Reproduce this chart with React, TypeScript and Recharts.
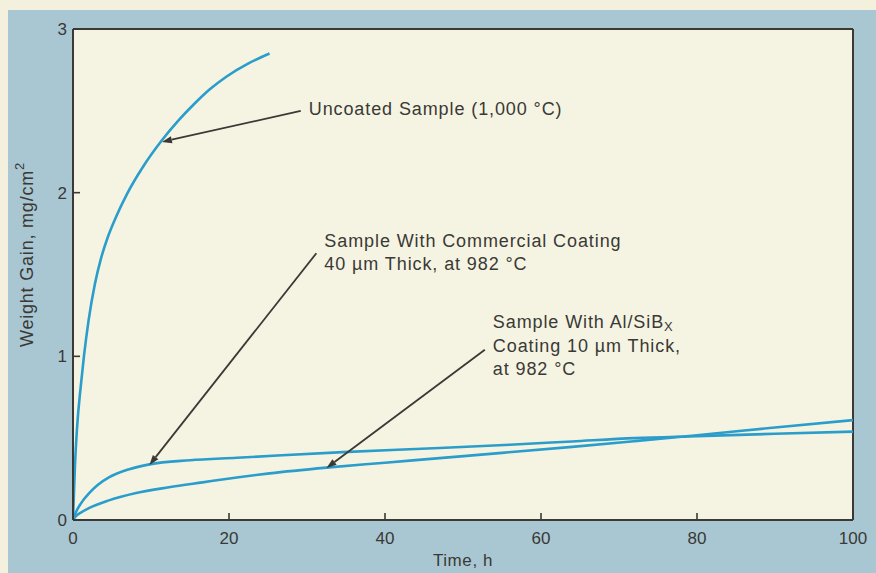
import React from "react";
import { LineChart, Line, XAxis, YAxis, ReferenceLine } from "recharts";

// values
const xTicks = [0, 20, 40, 60, 80, 100];
const yTicks = [0, 1, 2, 3];

const uncoated = [
  { x: 0, y: 0 },
  { x: 0.25, y: 0.33 },
  { x: 0.5, y: 0.55 },
  { x: 1, y: 0.82 },
  { x: 1.4, y: 1.0 },
  { x: 2, y: 1.22 },
  { x: 2.8, y: 1.44 },
  { x: 3.6, y: 1.6 },
  { x: 4.4, y: 1.72 },
  { x: 5.5, y: 1.85 },
  { x: 6.9, y: 1.99 },
  { x: 9, y: 2.16 },
  { x: 11.4, y: 2.32 },
  { x: 13.5, y: 2.44 },
  { x: 15.5, y: 2.54 },
  { x: 17.5, y: 2.63 },
  { x: 19.7, y: 2.71 },
  { x: 22.5, y: 2.79 },
  { x: 25.2, y: 2.85 },
];

const commercial = [
  { x: 0, y: 0 },
  { x: 0.4, y: 0.05 },
  { x: 1, y: 0.1 },
  { x: 2.1, y: 0.165 },
  { x: 3.2, y: 0.215 },
  { x: 4.6, y: 0.26 },
  { x: 7.2, y: 0.31 },
  { x: 9.8, y: 0.34 },
  { x: 15, y: 0.365 },
  { x: 21, y: 0.38 },
  { x: 34.6, y: 0.415 },
  { x: 47, y: 0.44 },
  { x: 56, y: 0.46 },
  { x: 64, y: 0.48 },
  { x: 72, y: 0.5 },
  { x: 80, y: 0.512 },
  { x: 90, y: 0.527 },
  { x: 100, y: 0.54 },
];

const alSiBx = [
  { x: 0, y: 0 },
  { x: 0.4, y: 0.025 },
  { x: 1, y: 0.045 },
  { x: 2.1, y: 0.074 },
  { x: 4.6, y: 0.12 },
  { x: 8.1, y: 0.165 },
  { x: 12.3, y: 0.2 },
  { x: 16.6, y: 0.23 },
  { x: 21, y: 0.26 },
  { x: 25.2, y: 0.285 },
  { x: 32.5, y: 0.32 },
  { x: 40, y: 0.35 },
  { x: 47, y: 0.378 },
  { x: 55, y: 0.41 },
  { x: 64, y: 0.447 },
  { x: 72, y: 0.482 },
  { x: 80, y: 0.518 },
  { x: 90, y: 0.565 },
  { x: 100, y: 0.61 },
];

// annotation arrows: [text end, arrow tip] in data units
const uncoatedArrow = [{ x: 29.2, y: 2.5 }, { x: 11.4, y: 2.31 }];
const commercialArrow = [{ x: 31.2, y: 1.63 }, { x: 9.8, y: 0.336 }];
const alArrow = [{ x: 52.8, y: 1.04 }, { x: 32.5, y: 0.318 }];

const uncoatedText = ["Uncoated Sample (1,000 °C)"];
const commercialText = ["Sample With Commercial Coating", "40 \u00b5m Thick, at 982 °C"];
const alText = ["Sample With Al/SiB|X", "Coating 10 \u00b5m Thick,", "at 982 °C"];

const INK = "#3a3935";
const CURVE = "#2a9dcb";
const FONT = "'Liberation Sans', Arial, Helvetica, sans-serif";
const X_GAP = 12;
const Y_GAP = 6;
const TICK_LEN = 7;

function renderLine(s: string) {
  if (s.includes("|")) {
    const [main, sub] = s.split("|");
    return (
      <>
        {main}
        <tspan fontSize={13} dy={5}>{sub}</tspan>
      </>
    );
  }
  return s;
}

function arrowShape(lines: string[], offsets: number[]) {
  return (p: any) => {
    const { x1, y1, x2, y2 } = p;
    const ang = Math.atan2(y2 - y1, x2 - x1);
    const len = 10;
    const w = 3.5;
    const bx = x2 - len * Math.cos(ang);
    const by = y2 - len * Math.sin(ang);
    const nx = -Math.sin(ang) * w;
    const ny = Math.cos(ang) * w;
    return (
      <g>
        <line x1={x1} y1={y1} x2={bx} y2={by} stroke={INK} strokeWidth={1.8} />
        <polygon points={`${x2},${y2} ${bx + nx},${by + ny} ${bx - nx},${by - ny}`} fill={INK} />
        {lines.map((l, i) => (
          <text
            key={i}
            x={x1 + 8}
            y={y1 + offsets[i]}
            fill={INK}
            fontSize={18}
            letterSpacing={0.9}
            fontFamily={FONT}
            dominantBaseline="middle"
          >
            {renderLine(l)}
          </text>
        ))}
      </g>
    );
  };
}

// ticks point into the plot, labels sit outside
function XTick({ x, y, payload }: any) {
  const axisY = y - X_GAP;
  return (
    <g>
      <line x1={x} x2={x} y1={axisY} y2={axisY - TICK_LEN} stroke={INK} strokeWidth={1.6} />
      <text x={x} y={y} dy="0.71em" textAnchor="middle" fill={INK} fontSize={17} fontFamily={FONT}>
        {payload.value}
      </text>
    </g>
  );
}

function YTick({ x, y, payload }: any) {
  const axisX = x + Y_GAP;
  return (
    <g>
      <line x1={axisX} x2={axisX + TICK_LEN} y1={y} y2={y} stroke={INK} strokeWidth={1.6} />
      <text x={x} y={y} dy="0.355em" textAnchor="end" fill={INK} fontSize={17} fontFamily={FONT}>
        {payload.value}
      </text>
    </g>
  );
}

export default function App() {
  return (
    <div style={{ position: "absolute", left: 0, top: 0, width: 876, height: 573, background: "#f3f1dd", overflow: "hidden" }}>
      <div style={{ position: "absolute", left: 8, top: 10, right: 0, bottom: 0, background: "#a9c7d3" }} />
      {/* plot paper behind the transparent svg */}
      <div style={{ position: "absolute", left: 73, top: 29, width: 780, height: 491, background: "#f5f4e3" }} />
      <div style={{ position: "absolute", left: 0, top: 0 }}>
        <LineChart width={876} height={573} margin={{ top: 29, right: 23, bottom: 23, left: 13 }}>
          <XAxis
            dataKey="x"
            type="number"
            domain={[0, 100]}
            ticks={xTicks}
            height={30}
            stroke={INK}
            strokeWidth={2}
            tickSize={0}
            tickMargin={X_GAP}
            tickLine={false}
            tick={<XTick />}
            allowDataOverflow
            label={{
              content: ({ viewBox }: any) => (
                <text
                  x={viewBox.x + viewBox.width / 2}
                  y={viewBox.y + 42}
                  textAnchor="middle"
                  dominantBaseline="middle"
                  fill={INK}
                  fontSize={17}
                  letterSpacing={0.6}
                  fontFamily={FONT}
                >
                  Time, h
                </text>
              ),
            }}
          />
          <YAxis
            type="number"
            domain={[0, 3]}
            ticks={yTicks}
            width={60}
            stroke={INK}
            strokeWidth={2}
            tickSize={0}
            tickMargin={Y_GAP}
            tickLine={false}
            tick={<YTick />}
            allowDataOverflow
            label={{
              content: ({ viewBox }: any) => {
                const cx = viewBox.x + 15;
                const cy = viewBox.y + viewBox.height / 2 - 20;
                return (
                  <text
                    x={cx}
                    y={cy}
                    transform={`rotate(-90 ${cx} ${cy})`}
                    textAnchor="middle"
                    dominantBaseline="middle"
                    fill={INK}
                    fontSize={18}
                    letterSpacing={0.8}
                    fontFamily={FONT}
                  >
                    Weight Gain, mg/cm<tspan fontSize={13} dy={-7}>2</tspan>
                  </text>
                );
              },
            }}
          />
          <ReferenceLine y={3} stroke={INK} strokeWidth={2} />
          <ReferenceLine x={100} stroke={INK} strokeWidth={2} />
          <Line data={uncoated} dataKey="y" type="monotone" stroke={CURVE} strokeWidth={2.6} dot={false} isAnimationActive={false} />
          <Line data={commercial} dataKey="y" type="monotone" stroke={CURVE} strokeWidth={2.6} dot={false} isAnimationActive={false} />
          <Line data={alSiBx} dataKey="y" type="monotone" stroke={CURVE} strokeWidth={2.6} dot={false} isAnimationActive={false} />
          <ReferenceLine segment={uncoatedArrow} shape={arrowShape(uncoatedText, [-1])} />
          <ReferenceLine segment={commercialArrow} shape={arrowShape(commercialText, [-11, 12])} />
          <ReferenceLine segment={alArrow} shape={arrowShape(alText, [-27, -3, 20])} />
        </LineChart>
      </div>
    </div>
  );
}
